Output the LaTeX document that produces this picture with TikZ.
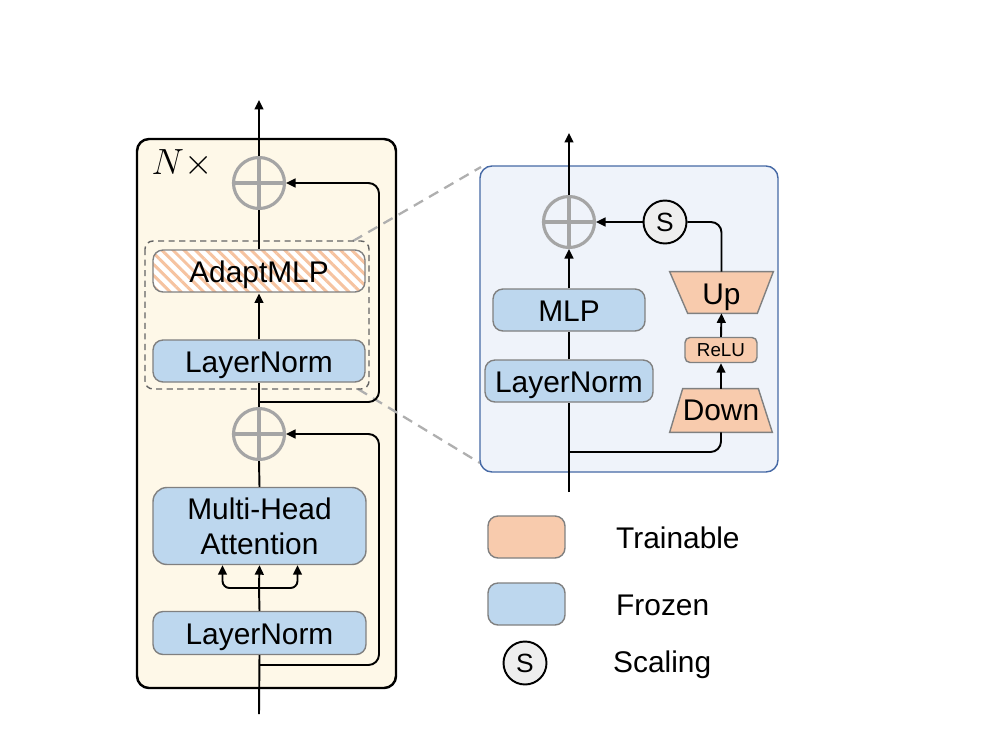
\documentclass[tikz,border=0pt]{standalone}
\usepackage{fontspec}
\setmainfont{Liberation Sans}
\usetikzlibrary{calc,arrows.meta,patterns.meta,positioning}

\definecolor{cream}{RGB}{254,248,232}
\definecolor{panelbg}{RGB}{239,243,250}
\definecolor{panelblue}{RGB}{70,105,165}
\definecolor{trainorange}{RGB}{248,203,173}
\definecolor{stripe}{RGB}{246,195,160}
\definecolor{frozenblue}{RGB}{189,215,238}
\definecolor{boxgray}{RGB}{128,128,128}
\definecolor{plusgray}{RGB}{165,165,165}
\definecolor{sgray}{RGB}{238,238,238}
\definecolor{dashgray}{RGB}{100,100,100}
\definecolor{zoomgray}{RGB}{175,175,175}

\begin{document}
\begin{tikzpicture}[x=0.02cm, y=-0.02cm, font=\fontsize{17}{20}\selectfont,
  conn/.style={line width=1.1pt},
  arr/.style={conn, -{Triangle[length=5.4pt,width=5pt]}},
  txt/.style={text height=13.6pt, text depth=0pt},
  blk/.style={rectangle, rounded corners=0.2cm, draw=boxgray, line width=0.8pt, minimum height=0.84cm, inner sep=0pt},
  frozen/.style={blk, fill=frozenblue},
  train/.style={blk, fill=trainorange},
  oplus/.style={circle, draw=plusgray, line width=1.8pt, minimum size=1.02cm, inner sep=0pt,
    path picture={\draw[plusgray, line width=1.8pt] (path picture bounding box.north) -- (path picture bounding box.south)
      (path picture bounding box.west) -- (path picture bounding box.east);}},
  scal/.style={circle, draw=black, line width=1.1pt, fill=sgray, minimum size=0.86cm, inner sep=0pt, font=\fontsize{15}{17}\selectfont}]
\fill[white] (0,0) rectangle (995,748);
\useasboundingbox (0,0) rectangle (995,748);
% left block
\draw[line width=1.4pt, fill=cream, rounded corners=0.24cm] (137,139) rectangle (396,688);
% zoom lines
\draw[zoomgray, line width=1.3pt, dash pattern=on 6pt off 4pt] (353,241) -- (481,167) (358,389) -- (480,463);
% right block
\draw[panelblue, line width=0.8pt, fill=panelbg, rounded corners=0.24cm] (480,166) rectangle (778,472);
\draw[dashgray, line width=0.8pt, dash pattern=on 3.5pt off 2.5pt, rounded corners=0.16cm] (145,241) rectangle (369,389);

\node (nx) at (182,164) {\fontsize{20}{22}\selectfont$N\times$};
\node[oplus] (plusA) at (259,183) {};
\node[blk, txt, minimum width=4.24cm, preaction={fill=white}, pattern={Lines[angle=-45,distance=4.5pt,line width=1.7pt]}, pattern color=stripe] (adapt) at (259,271) {AdaptMLP};
\node[frozen, txt, minimum width=4.24cm] (lnA) at (259,361) {LayerNorm};
\node[oplus] (plusB) at (259,434) {};
\node[frozen, minimum width=4.26cm, minimum height=1.54cm, rounded corners=0.28cm, align=center] (mha) at (259.5,526) {Multi-Head\\Attention};
\node[frozen, txt, minimum width=4.26cm, minimum height=0.86cm] (lnB) at (259.5,633) {LayerNorm};
\coordinate (topA) at (259,100); \coordinate (botA) at (259,714);
\coordinate (spA) at (259,588); \coordinate (resA) at (259,402); \coordinate (resB) at (259,665);

\draw[conn] (botA) -- (lnB.south);
\draw[conn] (lnB.north) -- (spA);
\draw[arr] (spA) -- (mha.south);
\draw[arr, rounded corners=4] (spA) -| ($(mha.south)+(-37,0)$);
\draw[arr, rounded corners=4] (spA) -| ($(mha.south)+(38,0)$);
\draw[conn] (mha.north) -- (plusB.south);
\draw[conn] (plusB.north) -- (lnA.south);
\draw[arr] (lnA.north) -- (adapt.south);
\draw[conn] (adapt.north) -- (plusA.south);
\draw[arr] (plusA.north) -- (topA);
\draw[arr, rounded corners=6] (resB) -- ++(120,0) |- (plusB.east);
\draw[arr, rounded corners=6] (resA) -- ++(120,0) |- (plusA.east);

% AdaptMLP detail
\node[oplus] (plusC) at (569,222) {};
\node[frozen, txt, minimum width=3.04cm] (mlp) at (569,310) {MLP};
\node[frozen, txt, minimum width=3.36cm] (lnC) at (569,381) {LayerNorm};
\node[scal] (scl) at (665,222) {S};
\node[minimum width=2.04cm, minimum height=0.86cm, inner sep=0pt] (down) at (721,410.5) {};
\draw[boxgray, line width=0.8pt, fill=trainorange] (down.south west) -- (down.south east) -- ($(down.north east)+(-14,0)$) -- ($(down.north west)+(13,0)$) -- cycle;
\node at (down) {Down};
\node[minimum width=2.06cm, minimum height=0.82cm, inner sep=0pt] (up) at (721.5,292.5) {};
\draw[boxgray, line width=0.8pt, fill=trainorange] (up.north west) -- (up.north east) -- ($(up.south east)+(-16,0)$) -- ($(up.south west)+(18,0)$) -- cycle;
\node[txt, inner sep=0pt] at (up) {Up};
\node[train, minimum width=1.44cm, minimum height=0.5cm, rounded corners=0.1cm, font=\fontsize{10.7}{12}\selectfont] (relu) at (721,350) {ReLU};
\coordinate (topC) at (569,133); \coordinate (botC) at (569,492); \coordinate (resC) at (569,452);

\draw[conn] (botC) -- (lnC.south);
\draw[conn] (lnC.north) -- (mlp.south);
\draw[arr] (mlp.north) -- (plusC.south);
\draw[arr] (plusC.north) -- (topC);
\draw[conn, rounded corners=6] (resC) -| (down.south);
\draw[arr] (down.north) -- (relu.south);
\draw[arr] (relu.north) -- (up.south);
\draw[conn, rounded corners=6] (up.north) |- (scl.east);
\draw[arr] (scl.west) -- (plusC.east);

% legend
\node[train, minimum width=1.54cm] (lgT) at (526.5,537) {};
\node[anchor=west] (lgTt) at (610,538) {Trainable};
\node[frozen, minimum width=1.54cm] (lgF) at (526.5,604) {};
\node[anchor=west] (lgFt) at (610,605) {Frozen};
\node[scal] (lgS) at (525,663) {S};
\node[anchor=west] (lgSt) at (607,665) {Scaling};
\end{tikzpicture}
\end{document}
